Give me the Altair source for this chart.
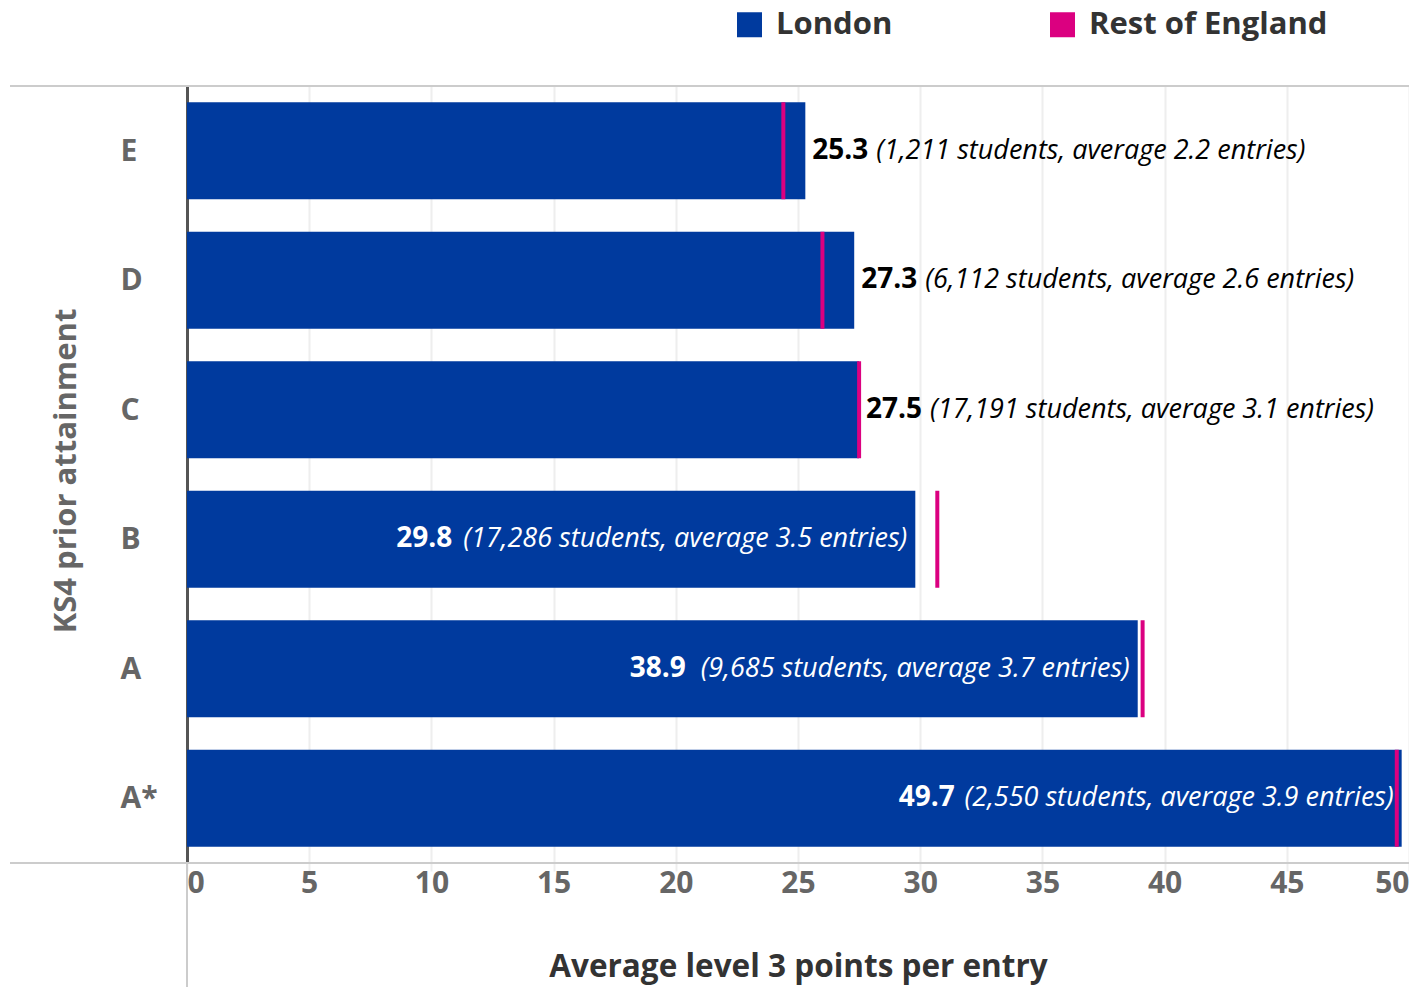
import altair as alt
import pandas as pd

# ---- data ----
categories = ["E", "D", "C", "B", "A", "A*"]
london = [25.3, 27.3, 27.5, 29.8, 38.9, 49.7]
rest_of_england = [24.4, 26.0, 27.5, 30.7, 39.1, 49.5]
students = ["1,211", "6,112", "17,191", "17,286", "9,685", "2,550"]
avg_entries = [2.2, 2.6, 3.1, 3.5, 3.7, 3.9]
x_ticks = [0, 5, 10, 15, 20, 25, 30, 35, 40, 45, 50]
series_names = ["London", "Rest of England"]

BLUE = "#003A9E"
PINK = "#DB0080"
FONT = "Open Sans"
VALUE_SIZE = 28
DETAIL_SIZE = 27

W, H = 1222, 777

long_rows = []
for c, l, r in zip(categories, london, rest_of_england):
    long_rows.append({"cat": c, "series": "London", "value": l})
    long_rows.append({"cat": c, "series": "Rest of England", "value": r})
long_df = pd.DataFrame(long_rows)

label_df = pd.DataFrame({
    "cat": categories,
    "london": london,
    "value_txt": [f"{v:.1f}" for v in london],
    "detail": [f"({s} students, average {e:.1f} entries)" for s, e in zip(students, avg_entries)],
    "inside": [v >= 29 for v in london],
})

y_enc = alt.Y("cat:N", sort=categories,
              scale=alt.Scale(paddingInner=0.25, paddingOuter=0.125),
              axis=alt.Axis(title="KS4 prior attainment", labelAlign="left", labelPadding=67,
                            ticks=False, grid=False, domainColor="#555555", domainWidth=3,
                            labelFontSize=30, labelFontWeight="bold", labelColor="#666666",
                            labelBaseline="middle", labelOffset=1,
                            titleFontSize=31, titleFontWeight="bold", titleColor="#666666",
                            titleAngle=-90, titleX=-121, titleY=H / 2 - 4, titleAlign="center",
                            titleBaseline="middle"))

x_scale = alt.Scale(domain=[0, 50], nice=False, zero=True)
x_axis = alt.Axis(title="Average level 3 points per entry", values=x_ticks, labelFlush=True,
                  domain=False, grid=True, gridColor="#eeeeee", gridWidth=2,
                  tickColor="#eeeeee", tickWidth=2, tickSize=8,
                  labelFontSize=30, labelFontWeight="bold", labelColor="#666666", labelPadding=-3,
                  titleFontSize=31.5, titleFontWeight="bold", titleColor="#333333",
                  titleY=104, titleBaseline="middle")

color_enc = alt.Color("series:N",
                      scale=alt.Scale(domain=series_names, range=[BLUE, PINK]),
                      legend=alt.Legend(title=None, orient="none", legendX=547, legendY=-77,
                                        direction="horizontal", symbolType="square",
                                        symbolSize=625, symbolStrokeWidth=0,
                                        labelFontSize=31, labelFontWeight="bold",
                                        labelColor="#333333", labelOffset=11, labelLimit=400,
                                        columnPadding=154, padding=0))

base_long = alt.Chart(long_df)

bars = base_long.transform_filter(alt.datum.series == "London").mark_bar().encode(
    x=alt.X("value:Q", scale=x_scale, axis=x_axis),
    y=y_enc,
    color=color_enc,
)

ticks = base_long.transform_filter(alt.datum.series == "Rest of England").mark_tick(
    thickness=4, size=97, opacity=1
).encode(
    x=alt.X("value:Q", scale=x_scale),
    y=alt.Y("cat:N", sort=categories),
    color=alt.Color("series:N"),
)

base_lab = alt.Chart(label_df)
val_common = dict(font=FONT, fontSize=VALUE_SIZE, baseline="middle", fontWeight="bold")
det_common = dict(font=FONT, fontSize=DETAIL_SIZE, baseline="middle", fontStyle="italic")

out_val = base_lab.transform_filter("!datum.inside").mark_text(
    align="left", dx=7, color="#000000", **val_common
).encode(x=alt.X("london:Q", scale=x_scale), y=alt.Y("cat:N", sort=categories), text="value_txt:N")

out_det = base_lab.transform_filter("!datum.inside").mark_text(
    align="left", dx=71, color="#000000", **det_common
).encode(x=alt.X("london:Q", scale=x_scale), y=alt.Y("cat:N", sort=categories), text="detail:N")

in_det = base_lab.transform_filter("datum.inside").mark_text(
    align="right", dx=-8, color="#ffffff", **det_common
).encode(x=alt.X("london:Q", scale=x_scale), y=alt.Y("cat:N", sort=categories), text="detail:N")

# width of the italic detail text for the inside labels (per row), to place the bold value before it
inside_detail_width = {"B": 446, "A": 435, "A*": 430}
in_vals = []
for cat, w in inside_detail_width.items():
    in_vals.append(
        base_lab.transform_filter(alt.datum.cat == cat).mark_text(
            align="right", dx=-(8 + w + 9), color="#ffffff", **val_common
        ).encode(x=alt.X("london:Q", scale=x_scale), y=alt.Y("cat:N", sort=categories), text="value_txt:N")
    )

deco = alt.Chart(pd.DataFrame({"k": [0]}))
top_line = deco.mark_rule(color="#cccccc", strokeWidth=2).encode(
    x=alt.value(-177), x2=alt.value(W), y=alt.value(0))
bottom_line = deco.mark_rule(color="#cccccc", strokeWidth=2).encode(
    x=alt.value(-177), x2=alt.value(W), y=alt.value(H))
below_line = deco.mark_rule(color="#cccccc", strokeWidth=2).encode(
    x=alt.value(0), y=alt.value(H), y2=alt.value(H + 140))

chart = alt.layer(
    bars, ticks, out_val, out_det, in_det, *in_vals, top_line, bottom_line, below_line
).properties(
    width=W, height=H,
    autosize=alt.AutoSizeParams(type="none"),
    padding={"left": 179, "top": 78, "right": 0, "bottom": 124},
).configure_view(stroke=None).configure(font=FONT)

chart.save("out.html", embed_options={"renderer": "svg", "actions": False})
